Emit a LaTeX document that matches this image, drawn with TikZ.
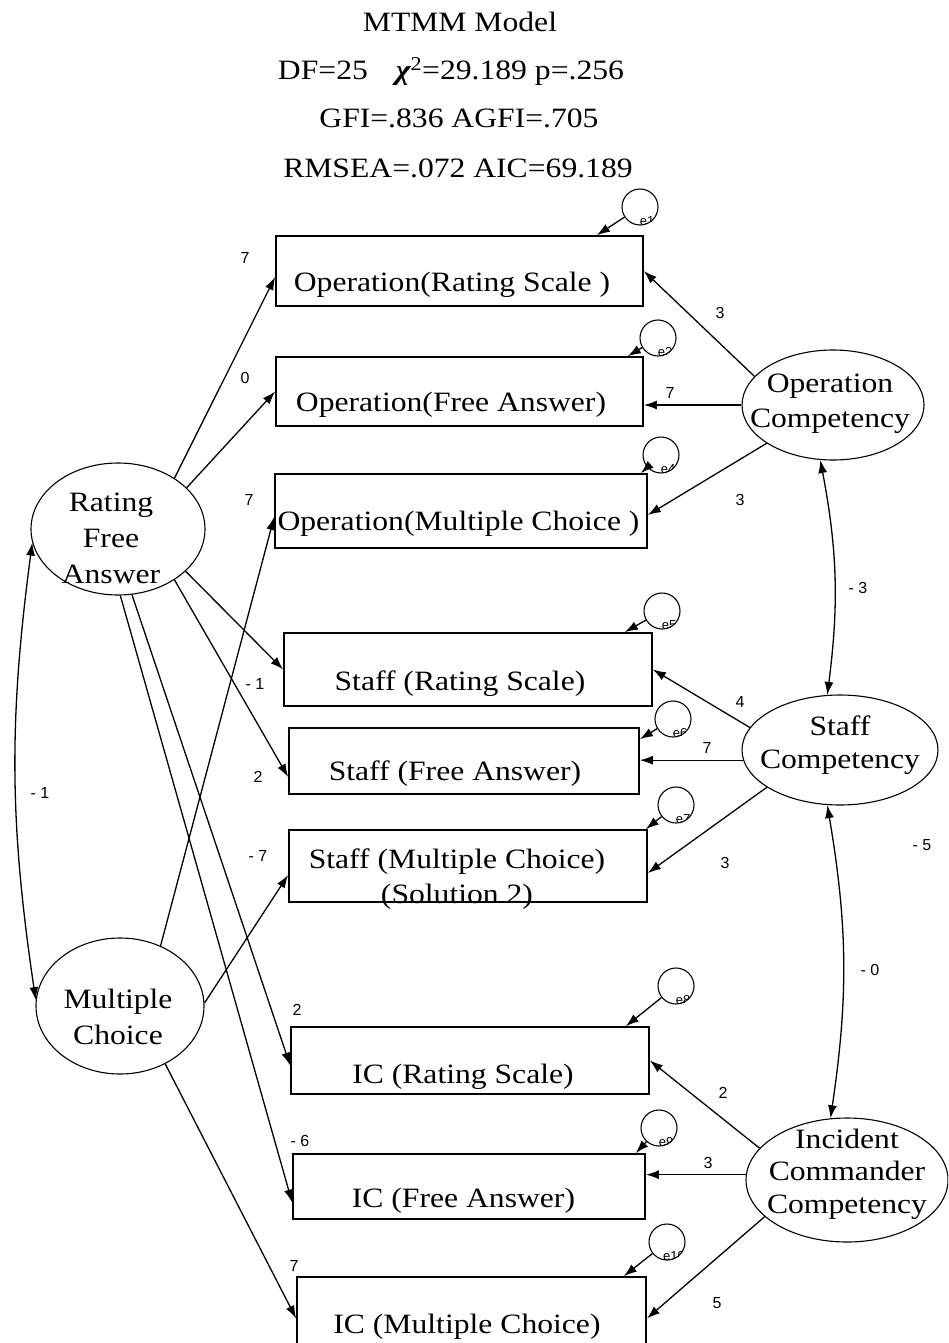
\documentclass[tikz,border=0pt]{standalone}
\usepackage{fontspec}
\setmainfont{Liberation Serif}[FakeStretch=1.13]
\newfontfamily\coeffont{Liberation Sans}
\usetikzlibrary{arrows.meta,shapes.geometric}

\tikzset{
  lw/.style={line width=1.3pt},
  arr/.style={lw, -{Latex[length=13pt,width=9pt]}},
  corr/.style={lw, {Latex[length=13pt,width=9pt]}-{Latex[length=13pt,width=9pt]}},
  obs/.style={draw, line width=1.7pt, rectangle, inner sep=0pt},
  lat/.style={draw, line width=1.1pt, ellipse, inner sep=0pt},
  err/.style={draw, line width=1.1pt, circle, inner sep=0pt, minimum size=36pt},
  boxtxt/.style={font=\fontsize{28}{35}\selectfont, inner sep=0pt, text height=19pt, text depth=6pt},
  multitxt/.style={font=\fontsize{28}{35}\selectfont, inner sep=0pt, align=center},
  headtxt/.style={font=\fontsize{28}{35}\selectfont, inner sep=0pt, anchor=base},
  coef/.style={font=\coeffont\fontsize{16}{16}\selectfont, inner sep=0pt},
  errtxt/.style={font=\coeffont\fontsize{13}{13}\selectfont, inner sep=0pt}
}

% residual circle with its clipped label
\newcommand\residual[4]{%
  \begin{scope}
    \clip (#2,#3) circle [radius=18];
    \node[errtxt] (#1t) at (#2+7,#3+14) {#4};
  \end{scope}
  \node[err] (#1) at (#2,#3) {};
}

\begin{document}
\begin{tikzpicture}[x=1pt,y=-1pt]
\useasboundingbox (0,0) rectangle (948,1343);
\clip (0,0) rectangle (948,1343);

% title and fit statistics
\node[headtxt] (t1) at (460,32) {MTMM Model};
\node[headtxt] (t2) at (451,80) {DF=25\quad{\bfseries\itshape χ}\textsuperscript{2}=29.189 p=.256};
\node[headtxt] (t3) at (459,128) {GFI=.836 AGFI=.705};
\node[headtxt] (t4) at (458,178) {RMSEA=.072 AIC=69.189};

% observed variables
\node[obs, minimum width=367, minimum height=70,
  label={[boxtxt, xshift=-7.5, yshift=-13.5]center:Operation(Rating Scale )}] (oprs) at (459.5,271) {};
\node[obs, minimum width=367, minimum height=69,
  label={[boxtxt, xshift=-8.5, yshift=-13]center:Operation(Free Answer)}] (opfa) at (459.5,391.5) {};
\node[obs, minimum width=372, minimum height=74,
  label={[boxtxt, xshift=-2.5, yshift=-12.5]center:Operation(Multiple Choice )}] (opmc) at (461,511) {};
\node[obs, minimum width=368, minimum height=73,
  label={[boxtxt, xshift=-8, yshift=-14]center:Staff (Rating Scale)}] (strs) at (468,669.5) {};
\node[obs, minimum width=350, minimum height=66,
  label={[boxtxt, xshift=-9, yshift=-12.5]center:Staff (Free Answer)}] (stfa) at (464,761) {};
\node[obs, minimum width=358, minimum height=72,
  label={[multitxt, xshift=-11, yshift=-13]center:{Staff (Multiple Choice)\\(Solution 2)}}] (stmc) at (468,866) {};
\node[obs, minimum width=358, minimum height=67,
  label={[boxtxt, xshift=-7, yshift=-16]center:IC (Rating Scale)}] (icrs) at (470,1060.5) {};
\node[obs, minimum width=352, minimum height=65,
  label={[boxtxt, xshift=-5.5, yshift=-14]center:IC (Free Answer)}] (icfa) at (469,1186.5) {};
\node[obs, minimum width=349, minimum height=83,
  label={[boxtxt, xshift=-4.5, yshift=-8]center:IC (Multiple Choice)}] (icmc) at (471.5,1318.5) {};

% method factors
\node[lat, minimum width=174, minimum height=132,
  label={[multitxt, font=\fontsize{28}{36}\selectfont, xshift=-7, yshift=-9.5]center:{Rating\\Free\\Answer}}] (rfa) at (118,529) {};
\node[lat, minimum width=168, minimum height=136,
  label={[multitxt, font=\fontsize{28}{36}\selectfont, xshift=-2, yshift=-11]center:{Multiple\\Choice}}] (mc) at (120,1006) {};

% trait factors
\node[lat, minimum width=182, minimum height=110,
  label={[multitxt, xshift=-3, yshift=1]center:{Operation\\Competency}}] (opc) at (833,405) {};
\node[lat, minimum width=196, minimum height=110,
  label={[multitxt, font=\fontsize{28}{33}\selectfont, yshift=5]center:{Staff\\Competency}}] (stc) at (840,750) {};
\node[lat, minimum width=202, minimum height=124,
  label={[multitxt, font=\fontsize{28}{32.5}\selectfont, yshift=6]center:{Incident\\Commander\\Competency}}] (icc) at (847,1180) {};

% residuals
\residual{e1}{640}{207}{e1}
\residual{e2}{658}{338}{e2}
\residual{e4}{661}{455}{e4}
\residual{e5}{662}{611}{e5}
\residual{e6}{673}{719}{e6}
\residual{e7}{676}{805}{e7}
\residual{e8}{676}{986}{e8}
\residual{e9}{659}{1128}{e9}
\residual{e10}{667}{1242}{e10}

\draw[arr] (e1) -- ([xshift=-47]oprs.north east);
\draw[arr] (e2) -- ([xshift=-16]opfa.north east);
\draw[arr] (e4) -- ([xshift=-7]opmc.north east);
\draw[arr] (e5) -- ([xshift=-28]strs.north east);
\draw[arr] (e6) -- ([yshift=-12]stfa.north east);
\draw[arr] (e7) -- ([xshift=-2]stmc.north east);
\draw[arr] (e8) -- ([xshift=-24]icrs.north east);
\draw[arr] (e9) -- ([xshift=-10]icfa.north east);
\draw[arr] (e10) -- ([xshift=-23]icmc.north east);

% method loadings
\draw[arr] (rfa.42) -- ([yshift=-6]oprs.west);
\draw[arr] (rfa.31) -- (opfa.west);
\draw[arr] (rfa.-32) -- (strs.west);
\draw[arr] (rfa.-42) -- ([yshift=-16]stfa.west);
\draw[arr] (rfa.-78) -- ([yshift=-5]icrs.west);
\draw[arr] (rfa.-88) -- ([yshift=-16]icfa.west);
\draw[arr] (mc.56) -- ([yshift=-6]opmc.west);
\draw[arr] (mc.2) -- ([yshift=-9]stmc.west);
\draw[arr] (mc.-52) -- (icmc.west);
\draw[corr] (rfa.189) to[bend right=8] (mc.176);

% trait loadings
\draw[arr] (opc.160) -- (oprs.east);
\draw[arr] (opc.west) -- (opfa.east |- opc.west);
\draw[arr] (opc.210) -- ([yshift=-4]opmc.east);
\draw[arr] (stc.166) -- (strs.east);
\draw[arr] (stc.186) -- (stfa.east |- stc.186);
\draw[arr] (stc.207) -- ([yshift=-7]stmc.east);
\draw[arr] (icc.160) -- (icrs.east);
\draw[arr] (icc.177) -- (icfa.east |- icc.177);
\draw[arr] (icc.204) -- (icmc.east);
\draw[corr] (opc.257) to[bend left=9] (stc.103);
\draw[corr] (stc.257) to[bend left=9] (icc.105);

% coefficients
\node[coef] (c1) at (245,258) {7};
\node[coef] (c2) at (245,378) {0};
\node[coef] (c3) at (249,500) {7};
\node[coef] (c4) at (255,684) {- 1};
\node[coef] (c5) at (258,777) {2};
\node[coef] (c6) at (258,856) {- 7};
\node[coef] (c7) at (40,793) {- 1};
\node[coef] (c8) at (297,1010) {2};
\node[coef] (c9) at (300,1141) {- 6};
\node[coef] (c10) at (294,1266) {7};
\node[coef] (c11) at (720,313) {3};
\node[coef] (c12) at (670,393) {7};
\node[coef] (c13) at (740,500) {3};
\node[coef] (c14) at (858,588) {- 3};
\node[coef] (c15) at (740,702) {4};
\node[coef] (c16) at (707,748) {7};
\node[coef] (c17) at (725,863) {3};
\node[coef] (c18) at (922,845) {- 5};
\node[coef] (c19) at (870,970) {- 0};
\node[coef] (c20) at (723,1093) {2};
\node[coef] (c21) at (708,1163) {3};
\node[coef] (c22) at (717,1303) {5};
\end{tikzpicture}
\end{document}
